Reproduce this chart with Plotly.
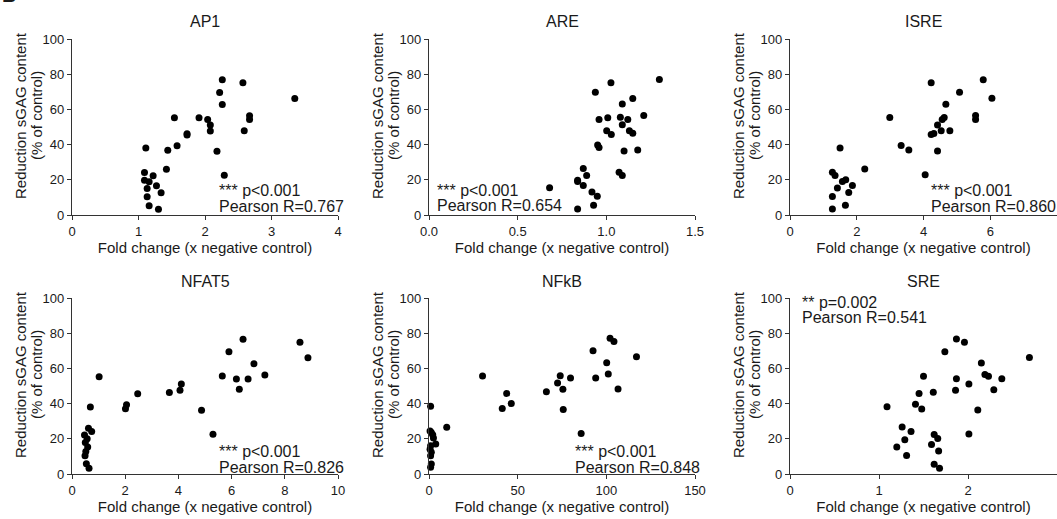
import plotly.graph_objects as go

# ---------------- data ----------------
panel_titles = ["AP1", "ARE", "ISRE", "NFAT5", "NFkB", "SRE"]

ap1_fold = [1.11, 1.09, 1.09, 1.22, 1.16, 1.13, 1.27, 1.34, 1.13, 1.16, 1.30, 1.42, 1.44, 1.58, 1.54, 1.73,
            1.73, 1.91, 2.04, 2.08, 2.08, 2.18, 2.22, 2.26, 2.26, 2.29, 2.57, 2.59, 2.67, 2.67, 3.35]
ap1_red = [38.1, 24.2, 19.8, 22.3, 18.9, 15.1, 16.6, 12.6, 10.4, 5.3, 3.2, 26.0, 36.8, 39.4, 55.3, 46.2,
           45.5, 55.3, 54.2, 51.1, 47.7, 36.2, 69.6, 76.8, 62.8, 22.6, 75.1, 47.9, 56.4, 54.2, 66.2]

are_fold = [0.680, 0.838, 0.838, 0.870, 0.889, 0.870, 0.919, 0.949, 0.928, 0.838, 0.938, 0.951, 0.959, 0.959,
            1.002, 1.008, 1.026, 1.028, 1.079, 1.090, 1.090, 1.072, 1.090, 1.100, 1.121, 1.130, 1.149, 1.149,
            1.177, 1.211, 1.299]
are_red = [15.5, 19.8, 19.1, 26.4, 22.5, 16.8, 13.0, 10.6, 5.5, 3.4, 69.8, 39.8, 38.3, 54.3, 47.9, 55.3,
           75.1, 45.7, 55.5, 63.0, 51.3, 24.3, 22.5, 36.4, 54.3, 47.9, 46.4, 66.2, 37.0, 56.6, 77.0]

isre_fold = [1.50, 1.27, 1.35, 1.57, 1.67, 1.87, 1.42, 1.76, 1.27, 1.66, 1.27, 2.24, 2.99, 3.33, 3.56, 4.05,
             4.23, 4.23, 4.31, 4.42, 4.42, 4.53, 4.56, 4.62, 4.67, 4.79, 5.08, 5.56, 5.56, 5.79, 6.05]
isre_red = [38.0, 24.3, 22.4, 19.0, 20.0, 16.8, 15.3, 12.8, 10.5, 5.5, 3.4, 26.2, 55.4, 39.5, 36.9, 22.8,
            75.1, 45.8, 46.3, 36.3, 51.2, 47.8, 54.2, 55.4, 62.9, 47.8, 69.7, 56.6, 54.2, 76.9, 66.3]

nfat5_fold = [0.69, 1.02, 0.47, 0.57, 0.62, 0.74, 0.50, 0.59, 0.52, 0.49, 0.54, 0.64, 2.01, 2.05, 2.47,
              3.66, 4.06, 4.11, 4.87, 5.30, 5.65, 5.90, 6.18, 6.29, 6.43, 6.62, 6.84, 7.25, 8.57, 8.87]
nfat5_red = [38.0, 55.2, 22.2, 20.0, 26.0, 24.1, 17.9, 15.3, 12.8, 10.4, 5.8, 3.2, 37.1, 39.4, 45.6,
             46.3, 47.6, 51.2, 36.2, 22.6, 55.7, 69.5, 54.0, 48.2, 76.6, 54.0, 62.7, 56.3, 74.8, 66.1]

nfkb_fold = [0.9, 0.6, 1.3, 2.1, 2.5, 3.8, 0.9, 0.6, 1.3, 0.9, 1.3, 0.9, 10.0, 30.2, 41.3, 43.8, 46.4,
             66.2, 72.5, 74.0, 75.5, 75.7, 79.8, 85.8, 92.5, 94.0, 100.2, 101.1, 102.1, 104.3, 106.6, 117.0]
nfkb_red = [38.5, 24.5, 23.6, 22.3, 20.4, 17.0, 16.0, 14.0, 12.3, 10.4, 5.7, 3.8, 26.6, 55.7, 37.2, 45.8,
            40.0, 46.8, 51.7, 55.8, 48.1, 36.6, 54.5, 23.0, 70.0, 54.5, 63.2, 56.8, 77.2, 75.3, 48.3, 66.6]

sre_fold = [1.09, 1.20, 1.29, 1.26, 1.36, 1.31, 1.41, 1.45, 1.48, 1.50, 1.59, 1.61, 1.62, 1.66, 1.62, 1.67,
            1.68, 1.74, 1.86, 1.87, 1.87, 1.96, 2.01, 2.01, 2.11, 2.15, 2.19, 2.23, 2.29, 2.38, 2.69]
sre_red = [38.2, 15.4, 19.5, 26.7, 24.1, 10.5, 39.7, 45.7, 37.0, 55.5, 16.7, 46.4, 22.4, 20.1, 5.5, 13.0,
           3.2, 69.5, 47.6, 54.1, 76.7, 74.8, 51.1, 22.7, 36.3, 63.0, 56.6, 55.5, 47.9, 54.1, 66.2]

x_ranges = [[0, 4], [0, 1.5], [0, 8], [0, 10], [0, 150], [0, 3]]
x_dticks = [1, 0.5, 2, 2, 50, 1]
x_formats = ["", ".1f", "", "", "", ""]

stat_p = ["*** p<0.001", "*** p<0.001", "*** p<0.001", "*** p<0.001", "*** p<0.001", "** p=0.002"]
stat_r = ["Pearson R=0.767", "Pearson R=0.654", "Pearson R=0.860",
          "Pearson R=0.826", "Pearson R=0.848", "Pearson R=0.541"]

y_title_lines = ["Reduction sGAG content", "(% of control)"]
x_title = "Fold change (x negative control)"

folds = [ap1_fold, are_fold, isre_fold, nfat5_fold, nfkb_fold, sre_fold]
reds = [ap1_red, are_red, isre_red, nfat5_red, nfkb_red, sre_red]

# ---------------- layout geometry (pixels) ----------------
W, H = 1057, 519
col_px = [(72, 338), (429, 695), (790, 1057)]
row_px = [(39, 215), (298, 474)]
# stat text: left x, line1 center y, line2 center y
stat_pos = [(217, 190, 206), (435, 190, 205), (929, 190, 206),
            (217, 451, 467), (573, 451, 467), (800, 302, 317)]

FONT = "Liberation Sans, Arial, Helvetica, sans-serif"
TXT = "#1a1a1a"
LINE = "#333333"

fig = go.Figure()
annotations = []

for i in range(6):
    r, c = divmod(i, 3)
    n = i + 1
    xa = "x" if n == 1 else f"x{n}"
    ya = "y" if n == 1 else f"y{n}"
    fig.add_trace(go.Scatter(
        x=folds[i], y=reds[i], mode="markers", xaxis=xa, yaxis=ya,
        marker=dict(color="black", size=7, line=dict(width=0)),
        cliponaxis=False, showlegend=False, hoverinfo="x+y"))

    x0, x1 = col_px[c]
    y0, y1 = row_px[r]
    xdom = [x0 / W, min(x1 / W, 1.0)]
    ydom = [1 - y1 / H, 1 - y0 / H]

    axis_common = dict(showline=True, linecolor=LINE, linewidth=1.3, ticks="outside",
                       ticklen=4, tickwidth=1.3, tickcolor=LINE, showgrid=False, zeroline=False,
                       automargin=False,
                       tickfont=dict(family=FONT, size=13, color=TXT))
    fig.layout[("xaxis" if n == 1 else f"xaxis{n}")] = dict(
        domain=xdom, anchor=ya, range=x_ranges[i], dtick=x_dticks[i], tick0=0,
        tickformat=x_formats[i],
        title=dict(text=x_title, font=dict(family=FONT, size=15, color=TXT), standoff=2),
        **axis_common)
    fig.layout[("yaxis" if n == 1 else f"yaxis{n}")] = dict(
        domain=ydom, anchor=xa, range=[0, 100], dtick=20, tick0=0, **axis_common)

    # y-axis title as two rotated lines
    for k, off in enumerate((52, 36)):
        annotations.append(dict(text=y_title_lines[k], xref="paper", yref="paper",
                                x=(x0 - off) / W, y=1 - (y0 + 77) / H, textangle=-90,
                                xanchor="center", yanchor="middle", showarrow=False,
                                font=dict(family=FONT, size=15, color=TXT)))

    # panel title
    annotations.append(dict(text=panel_titles[i], xref="paper", yref="paper",
                            x=(x0 + x1) / 2 / W, y=1 - (y0 - 17) / H,
                            xanchor="center", yanchor="middle", showarrow=False,
                            font=dict(family=FONT, size=16, color=TXT)))
    sx, sy1, sy2 = stat_pos[i]
    annotations.append(dict(text=stat_p[i], xref="paper", yref="paper",
                            x=sx / W, y=1 - sy1 / H, xanchor="left", yanchor="middle",
                            showarrow=False, font=dict(family=FONT, size=16, color=TXT)))
    annotations.append(dict(text=stat_r[i], xref="paper", yref="paper",
                            x=sx / W, y=1 - sy2 / H, xanchor="left", yanchor="middle",
                            showarrow=False, font=dict(family=FONT, size=16, color=TXT)))

annotations.append(dict(text="<b>B</b>", xref="paper", yref="paper", x=0.0, y=1 + 5 / H,
                        xanchor="left", yanchor="middle", showarrow=False,
                        font=dict(family=FONT, size=20, color=TXT)))

fig.update_layout(width=W, height=H, margin=dict(l=0, r=0, t=0, b=0, autoexpand=False),
                  paper_bgcolor="white", plot_bgcolor="white",
                  annotations=annotations, font=dict(family=FONT, color=TXT))

fig.write_html("out.html", config={"displayModeBar": False},
               post_script="document.body.style.margin='0';document.body.style.overflow='hidden';")
